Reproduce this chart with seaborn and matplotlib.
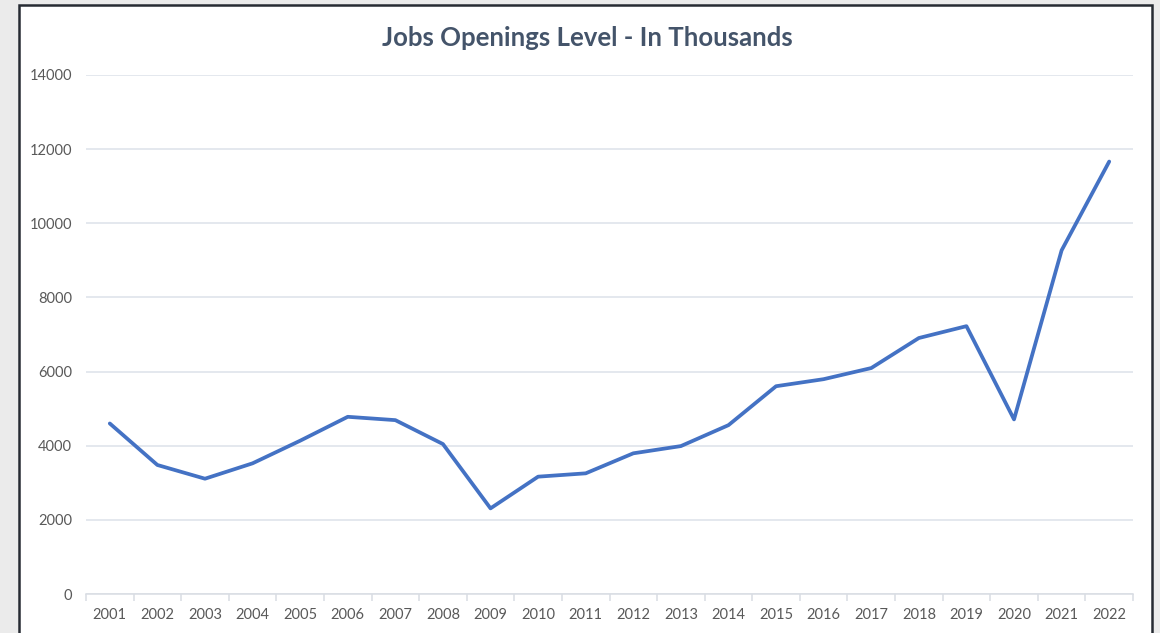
import pandas as pd
import matplotlib
matplotlib.use("Agg")
import matplotlib.pyplot as plt
import seaborn as sns
from matplotlib.patches import Rectangle
from matplotlib.ticker import FixedLocator, NullFormatter

# Dados (milhares de vagas)
anos = [str(a) for a in range(2001, 2023)]
vagas = [4600, 3480, 3110, 3525, 4135, 4780, 4690, 4045, 2310, 3165,
         3255, 3795, 3990, 4555, 5605, 5795, 6095, 6905, 7225, 4710,
         9270, 11665]
titulo = "Jobs Openings Level - In Thousands"

df = pd.DataFrame({"Ano": anos, "Vagas": vagas})

sns.set_theme(style="white")
plt.rcParams["font.family"] = ["Lato", "DejaVu Sans"]

fig = plt.figure(figsize=(11.6, 6.33), dpi=100, facecolor="#ebebeb")

# moldura branca do gráfico (atrás dos eixos)
W, H = 1160, 633
fig.patches.append(Rectangle((19 / W, -0.05), (1152 - 19) / W, 1.05 - 5 / H,
                             transform=fig.transFigure, facecolor="white",
                             edgecolor="#262b33", linewidth=1.8, zorder=-1))

ax = fig.add_axes([86 / W, 1 - 594 / H, (1133 - 86) / W, (594 - 75) / H])
ax.set_facecolor("none")

sns.lineplot(data=df, x="Ano", y="Vagas", ax=ax, color="#4472c4",
             linewidth=2.7, sort=False)

ax.set_ylim(0, 14000)
ax.set_xlim(-0.5, len(anos) - 0.5)
ax.set_yticks(range(0, 14001, 2000))
ax.yaxis.grid(True, color="#dde2ea", linewidth=1.1)
ax.set_axisbelow(True)

for s in ["top", "right", "left"]:
    ax.spines[s].set_visible(False)
ax.spines["bottom"].set_color("#d9dde3")
ax.spines["bottom"].set_linewidth(1.1)

ax.xaxis.set_minor_locator(FixedLocator([i - 0.5 for i in range(len(anos) + 1)]))
ax.xaxis.set_minor_formatter(NullFormatter())
ax.tick_params(axis="x", which="major", length=0, pad=10, labelsize=10.5, labelcolor="#595959")
ax.tick_params(axis="x", which="minor", length=5, width=1.1, color="#d9dde3", bottom=True)
ax.tick_params(axis="y", length=0, pad=10, labelsize=10.5, labelcolor="#595959")

ax.set_xlabel("")
ax.set_ylabel("")

fig.text(587 / W, 1 - 38 / H, titulo, ha="center", va="center",
         fontsize=18.5, fontweight="bold", color="#44546a")

fig.savefig("out.png", dpi=100, facecolor=fig.get_facecolor())
